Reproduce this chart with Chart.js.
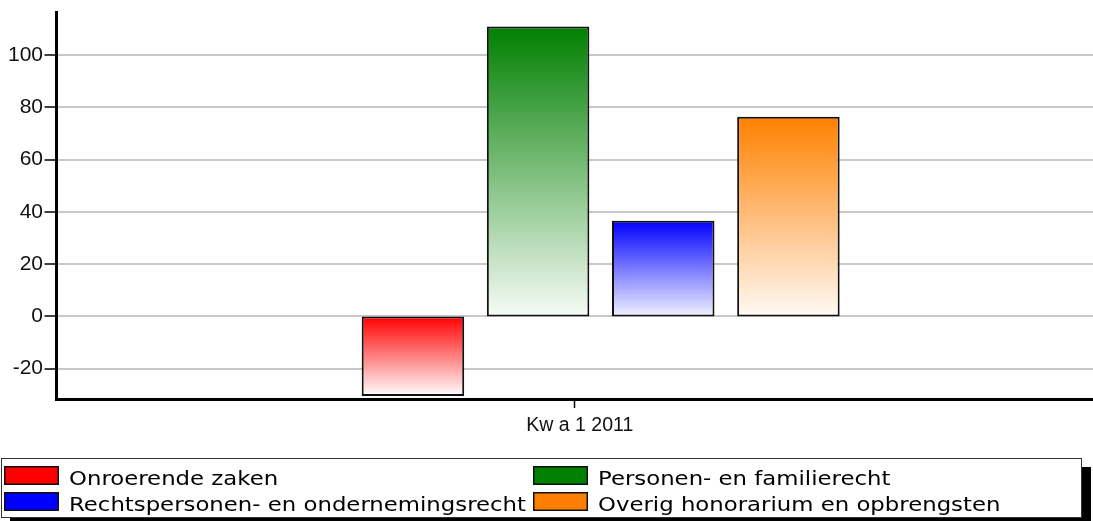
<!DOCTYPE html>
<html><head><meta charset="utf-8">
<script src="https://cdn.jsdelivr.net/npm/chart.js@4"></script>
<style>html,body{margin:0;padding:0;background:#fff;overflow:hidden}#wrap{width:1093px;height:521px;position:relative}canvas{display:block}</style>
</head><body><div id="wrap"><canvas id="c" width="1093" height="521"></canvas></div>
<script>
// ---- data ----
const quarters = ['Kw a 1 2011'];
const seriesNames = ['Onroerende zaken', 'Personen- en familierecht', 'Rechtspersonen- en ondernemingsrecht', 'Overig honorarium en opbrengsten'];
const onroerendeZaken = [-30.5];
const personenFamilierecht = [110.9];
const rechtspersonenOndernemingsrecht = [36.6];
const overigHonorarium = [76.4];
const yTickValues = [-20, 0, 20, 40, 60, 80, 100];

// ---- styles ----
const seriesColors = ['#ff0000', '#008000', '#0000ff', '#ff8000'];
const seriesFadeColors = ['#ffffff', '#f7fbf7', '#f2f2ff', '#fffaf5'];
const seriesValues = [onroerendeZaken, personenFamilierecht, rechtspersonenOndernemingsrecht, overigHonorarium];

function barGradient(i) {
  return (ctx) => {
    const chart = ctx.chart;
    const ys = chart.scales.y;
    if (ctx.type !== 'data' || !ys || !ctx.parsed) return seriesColors[i];
    const v = ctx.parsed.y;
    const pTop = ys.getPixelForValue(Math.max(v, 0));
    const pBot = ys.getPixelForValue(Math.min(v, 0));
    if (!isFinite(pTop) || !isFinite(pBot) || pTop === pBot) return seriesColors[i];
    const g = chart.ctx.createLinearGradient(0, pTop, 0, pBot);
    g.addColorStop(0, seriesColors[i]);
    g.addColorStop(1, seriesFadeColors[i]);
    return g;
  };
}

const datasets = seriesNames.map((name, i) => ({
  label: name,
  data: seriesValues[i].map((v, k) => ({ x: k, y: v })),
  backgroundColor: barGradient(i),
  borderColor: '#111',
  borderWidth: 2,
  borderSkipped: false,
  base: 1e-9, // bars start exactly on the zero line (no half-gridline inset)
  legendColor: seriesColors[i],
  xAxisID: 'x',
  yAxisID: 'y'
}));

const boxLegend = {
  id: 'boxLegend',
  afterDraw(chart) {
    const c = chart.ctx;
    const ds = chart.data.datasets;
    c.save();
    c.fillStyle = '#000';
    c.fillRect(10, 467, 1081, 60);
    c.fillStyle = '#fff';
    c.fillRect(1.5, 458.5, 1080, 59);
    c.strokeStyle = '#333';
    c.lineWidth = 1;
    c.strokeRect(1.5, 458.5, 1080, 59);
    const colX = [4, 533];
    const rowY = [466, 492];
    ds.forEach((d, i) => {
      const x = colX[i % 2], y = rowY[Math.floor(i / 2)];
      c.fillStyle = d.legendColor;
      c.fillRect(x, y, 55, 19);
      c.strokeStyle = '#111';
      c.lineWidth = 1.5;
      c.strokeRect(x + 0.75, y + 0.75, 53.5, 17.5);
      c.save();
      c.fillStyle = '#000';
      c.font = '20px "DejaVu Sans"';
      c.textBaseline = 'alphabetic';
      c.setTransform(1.14, 0, 0, 1, x + 65, y + 19);
      c.fillText(d.label, 0, 0);
      c.restore();
    });
    c.restore();
  }
};

new Chart(document.getElementById('c'), {
  type: 'bar',
  data: { datasets },
  plugins: [boxLegend],
  options: {
    responsive: false,
    animation: false,
    devicePixelRatio: 1,
    categoryPercentage: 0.483,
    barPercentage: 0.819,
    layout: { padding: { top: 12.7, left: 6.5, right: 0, bottom: 77.6 } },
    plugins: { legend: { display: false }, tooltip: { enabled: false } },
    scales: {
      x: {
        type: 'linear', display: false, offset: false,
        min: -0.525, max: 0.475,
        afterBuildTicks: s => { s.ticks = []; }
      },
      xl: {
        type: 'category', axis: 'x', position: 'bottom',
        labels: quarters, offset: true,
        grid: { offset: false, drawOnChartArea: false, drawTicks: true, tickLength: 9, tickColor: '#000', tickWidth: 1.5 },
        border: { display: true, color: '#000', width: 3 },
        ticks: { color: '#111', font: { family: 'Liberation Sans', size: 19.5 }, padding: 6, labelOffset: 5, maxRotation: 0, autoSkip: false }
      },
      y: {
        min: -31.6, max: 116.2,
        afterBuildTicks: s => { s.ticks = yTickValues.map(v => ({ value: v })); },
        grid: { color: '#c8c8c8', lineWidth: 2, tickColor: '#000', tickLength: 12, tickWidth: 1.5, drawTicks: true },
        border: { display: true, color: '#000', width: 3 },
        ticks: { color: '#111', font: { family: 'Liberation Sans', size: 21, lineHeight: 1 }, padding: 1.5 }
      }
    }
  }
});
</script>
</body></html>
